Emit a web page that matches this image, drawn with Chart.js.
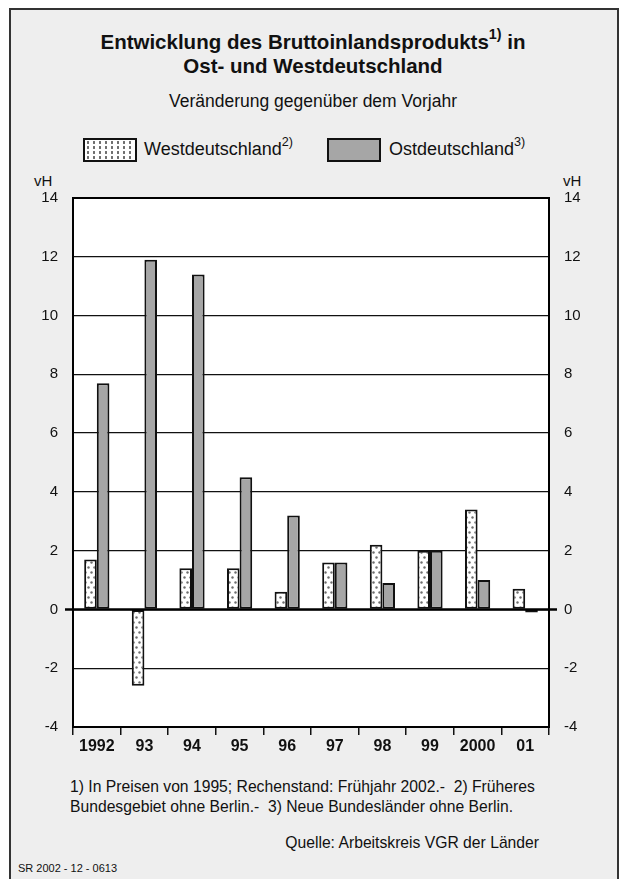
<!DOCTYPE html>
<html>
<head>
<meta charset="utf-8">
<script src="https://cdn.jsdelivr.net/npm/chart.js@4.4.0/dist/chart.umd.min.js"></script>
<style>
  html, body { margin: 0; overflow: hidden; width: 619px; height: 879px; }
  body { background: #fff; font-family: 'Liberation Sans', Arial, sans-serif; color: #111; position: relative; }
  #frame { position: absolute; left: 9px; top: 8px; width: 606px; height: 880px; border: 2px solid #333; background: #eeeeee; }
  .t { position: absolute; white-space: nowrap; }
  sup { font-size: 70%; line-height: 0; position: relative; top: -2px; }
  .box { position: absolute; width: 54px; height: 24px; border: 2px solid #111; box-sizing: border-box; }
  #chart { position: absolute; left: 0; top: 170px; }
</style>
</head>
<body>
<div id="frame"></div>
<div class="t" style="left:0;width:626px;top:30px;text-align:center;font-weight:bold;font-size:20.5px;line-height:24px;">
  Entwicklung des Bruttoinlandsprodukts<sup>1)</sup> in<br>Ost- und Westdeutschland
</div>
<div class="t" style="left:0;width:626px;top:91px;text-align:center;font-size:17.5px;">Veränderung gegenüber dem Vorjahr</div>

<div class="box" id="boxWest" style="left:83px;top:138px;"></div>
<div class="t" style="left:144px;top:139px;font-size:18px;">Westdeutschland<sup>2)</sup></div>
<div class="box" style="left:327px;top:138px;background:#a6a6a6;"></div>
<div class="t" style="left:389px;top:139px;font-size:18px;">Ostdeutschland<sup>3)</sup></div>

<div class="t" style="left:34px;top:172px;font-size:15px;">vH</div>
<div class="t" style="left:563px;top:172px;font-size:15px;">vH</div>

<canvas id="chart" width="619" height="600"></canvas>

<div class="t" style="left:70px;top:777px;font-size:15.7px;line-height:20px;">
  1) In Preisen von 1995; Rechenstand: Frühjahr 2002.-&nbsp; 2) Früheres<br>Bundesgebiet ohne Berlin.-&nbsp; 3) Neue Bundesländer ohne Berlin.
</div>
<div class="t" style="right:80px;top:834px;font-size:15.7px;">Quelle: Arbeitskreis VGR der Länder</div>
<div class="t" style="left:18px;top:862px;font-size:11px;">SR 2002 - 12 - 0613</div>

<script>
var jahre = ["1992", "93", "94", "95", "96", "97", "98", "99", "2000", "01"];
var west = [1.7, -2.6, 1.4, 1.4, 0.6, 1.6, 2.2, 2.0, 3.4, 0.7];
var ost = [7.7, 11.9, 11.4, 4.5, 3.2, 1.6, 0.9, 2.0, 1.0, -0.1];
var yTicks = [-4, -2, 0, 2, 4, 6, 8, 10, 12, 14];

// dotted fill for Westdeutschland
function dotPattern() {
    var c = document.createElement('canvas');
    c.width = 6; c.height = 10;
    var g = c.getContext('2d');
    g.fillStyle = '#ffffff';
    g.fillRect(0, 0, 6, 10);
    g.fillStyle = '#6e6e6e';
    g.beginPath(); g.arc(1.5, 2.5, 1.2, 0, Math.PI * 2); g.fill();
    g.beginPath(); g.arc(4.5, 7.5, 1.2, 0, Math.PI * 2); g.fill();
    return g.createPattern(c, 'repeat');
}

var box = document.getElementById('boxWest');
box.style.background = 'radial-gradient(circle, #6e6e6e 1.1px, transparent 1.5px) 0 0/6px 5px, #fff';

var rahmen = {
    id: 'rahmen',
    afterDatasetsDraw: function(chart) {
        var ctx = chart.ctx, a = chart.chartArea;
        var y0 = chart.scales.y.getPixelForValue(0);
        ctx.save();
        ctx.strokeStyle = '#000';
        ctx.lineWidth = 2;
        ctx.strokeRect(a.left, a.top, a.right - a.left, a.bottom - a.top);
        ctx.lineWidth = 2.5;
        ctx.beginPath();
        ctx.moveTo(a.left - 8, y0);
        ctx.lineTo(a.right + 8, y0);
        ctx.stroke();
        ctx.restore();
    }
};

var weiss = {
    id: 'weiss',
    beforeDraw: function(chart) {
        var ctx = chart.ctx, a = chart.chartArea;
        ctx.save();
        ctx.fillStyle = '#fff';
        ctx.fillRect(a.left, a.top, a.right - a.left, a.bottom - a.top);
        ctx.restore();
    }
};

Chart.defaults.font.family = "'Liberation Sans', Arial, sans-serif";
Chart.defaults.color = '#111';

new Chart(document.getElementById('chart'), {
    type: 'bar',
    data: {
        labels: jahre,
        datasets: [{
            label: 'Westdeutschland',
            data: west,
            backgroundColor: dotPattern(),
            borderColor: '#111',
            borderWidth: 2,
            borderSkipped: false,
            yAxisID: 'y'
        }, {
            label: 'Ostdeutschland',
            data: ost,
            backgroundColor: '#a6a6a6',
            borderColor: '#111',
            borderWidth: 2,
            borderSkipped: false,
            yAxisID: 'y'
        }]
    },
    options: {
        responsive: false,
        animation: false,
        layout: { padding: { top: 28, left: 0, right: 0, bottom: 0 } },
        datasets: { bar: { categoryPercentage: 0.53, barPercentage: 1 } },
        plugins: { legend: { display: false }, tooltip: { enabled: false } },
        scales: {
            x: {
                grid: { display: true, drawOnChartArea: false, drawTicks: true, tickLength: 8, color: '#111', lineWidth: 1.5, offset: true },
                border: { display: false },
                ticks: { font: { size: 16, weight: 'bold' }, color: '#111', padding: 2 },
                afterFit: function(s) { s.height = 43; }
            },
            y: {
                position: 'left',
                min: -4, max: 14,
                afterBuildTicks: function(s) { s.ticks = yTicks.map(function(v) { return { value: v }; }); },
                grid: { color: '#111', lineWidth: 1.3, drawTicks: false },
                border: { display: false },
                ticks: { font: { size: 15 }, color: '#111', padding: 15 },
                afterFit: function(s) { s.width = 73; }
            },
            y2: {
                position: 'right',
                min: -4, max: 14,
                afterBuildTicks: function(s) { s.ticks = yTicks.map(function(v) { return { value: v }; }); },
                grid: { display: false, drawTicks: false },
                border: { display: false },
                ticks: { font: { size: 15 }, color: '#111', padding: 15 },
                afterFit: function(s) { s.width = 70; }
            }
        }
    },
    plugins: [weiss, rahmen]
});
</script>
</body>
</html>
